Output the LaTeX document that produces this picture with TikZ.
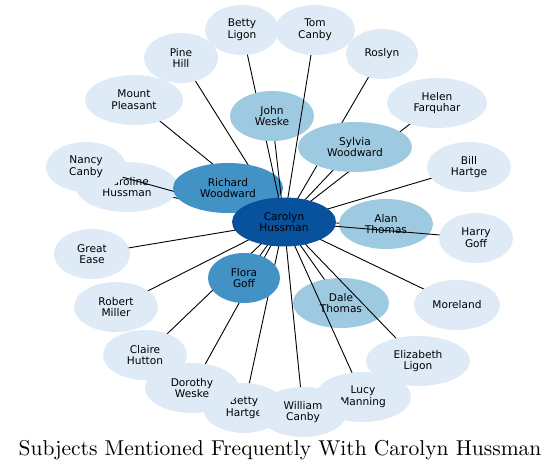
\documentclass[tikz,border=0pt]{standalone}
\usepackage{fontspec}
\usepackage{tikz}
\usetikzlibrary{shapes.geometric}
\newfontfamily\subjfont{DejaVu Sans}
\newfontfamily\titlefont{lmroman10-regular.otf}
\definecolor{lite}{HTML}{DEEBF7}
\definecolor{pale}{HTML}{9ECAE1}
\definecolor{mid}{HTML}{4292C6}
\definecolor{deep}{HTML}{08519C}

\begin{document}
\begin{tikzpicture}[x=1pt, y=-1pt,
    subj/.style={ellipse, fill=#1, minimum height=50pt, inner sep=0pt,
                 align=center, font=\subjfont\fontsize{10.6}{11.7}\selectfont},
    link/.style={draw=black, line width=0.9pt}]
    \useasboundingbox (0,0) rectangle (560,472);
    \coordinate (hub) at (284,222);
    % star of subjects around the hub, drawn back to front
    \foreach \n/\p/\w/\c/\t in {
        gease/{92,254}/76/lite/{Great\\Ease},
        rmiller/{116,307}/84/lite/{Robert\\Miller},
        chutton/{145,355}/84/lite/{Claire\\Hutton},
        bhartge/{244,408}/82/lite/{Betty\\Hartge},
        dweske/{192,388}/94/lite/{Dorothy\\Weske},
        fgoff/{244,278}/72/mid/{Flora\\Goff},
        dthomas/{341,303}/96/pale/{Dale\\Thomas},
        moreland/{457,305}/86/lite/{Moreland},
        eligon/{418,361}/104/lite/{Elizabeth\\Ligon},
        lmanning/{363,397}/96/lite/{Lucy\\Manning},
        wcanby/{303,412}/88/lite/{William\\Canby},
        athomas/{386,224}/94/pale/{Alan\\Thomas},
        hgoff/{476,238}/74/lite/{Harry\\Goff},
        bilhartge/{469,167}/84/lite/{Bill\\Hartge},
        chussman/{127,187}/102/lite/{Caroline\\Hussman},
        ncanby/{86,167}/80/lite/{Nancy\\Canby},
        mpleasant/{134,100}/98/lite/{Mount\\Pleasant},
        pinehill/{181,58}/74/lite/{Pine\\Hill},
        rwoodward/{228,188}/110/mid/{Richard\\Woodward},
        bligon/{242,30}/74/lite/{Betty\\Ligon},
        jweske/{272,116}/84/pale/{John\\Weske},
        tcanby/{315,30}/80/lite/{Tom\\Canby},
        roslyn/{382,54}/72/lite/{Roslyn},
        hfarquhar/{437,103}/100/lite/{Helen\\Farquhar},
        swoodward/{355,147}/114/pale/{Sylvia\\Woodward}}{
      \coordinate (\n) at (\p);
      \draw[link] (hub) -- (\n);
      \node[subj=\c, minimum width=\w pt] (\n-box) at (\n) {\t};
    }
    \node[subj=deep, minimum width=104pt, minimum height=49pt] (carolyn) at (hub) {Carolyn\\Hussman};
    \node[font=\titlefont\fontsize{21.5}{25}\selectfont] (title) at (280,450)
      {Subjects Mentioned Frequently With Carolyn Hussman};
\end{tikzpicture}
\end{document}
